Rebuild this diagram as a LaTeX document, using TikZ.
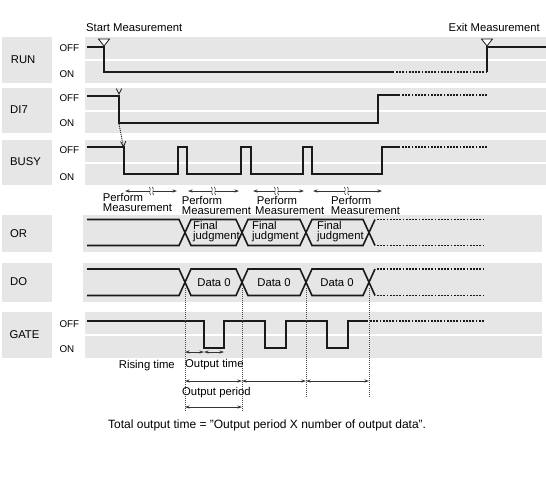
\documentclass[tikz,border=0pt]{standalone}
\usepackage{fontspec}
\setmainfont{Liberation Sans}
\usetikzlibrary{arrows.meta}
\definecolor{band}{HTML}{E6E6E6}
\definecolor{sig}{HTML}{1A1A1A}
\begin{document}
\begin{tikzpicture}[x=1pt,y=-1pt,
  sigline/.style={draw=sig,line width=1.6pt,line join=miter},
  dotsig/.style={draw=sig,line width=1.6pt,dash pattern=on 1.8pt off 1.4pt},
  vdot/.style={draw=black!70,line width=0.9pt,dash pattern=on 1pt off 1pt},
  tip/.tip={Stealth[length=4.5pt,width=3pt]},
  dimarrow/.style={draw=black!80,line width=0.7pt,tip-tip},
  lbl/.style={inner sep=0pt,font=\fontsize{11.3}{12}\selectfont},
  lvl/.style={inner sep=0pt,font=\fontsize{9.8}{11}\selectfont},
  sep/.style={draw=white,line width=1.6pt},
  marker/.style={draw=sig,fill=white,line width=0.8pt,line join=miter},
]
\useasboundingbox (0,0) rectangle (546,480);
\fill[white] (0,0) rectangle (546,480);

% ---- bands
\fill[band] (2,37) rectangle (52,83);
\fill[band] (85,37) rectangle (546,83);
\draw[sep] (85,60) -- (546,60);
\fill[band] (2,88) rectangle (52,133);
\fill[band] (85,88) rectangle (546,133);
\draw[sep] (85,111) -- (546,111);
\fill[band] (2,140) rectangle (52,185);
\fill[band] (85,140) rectangle (546,185);
\draw[sep] (85,163) -- (546,163);
\fill[band] (2,215) rectangle (52,252);
\fill[band] (83,215) rectangle (542,252);
\fill[band] (2,263) rectangle (52,302);
\fill[band] (83,263) rectangle (542,302);
\fill[band] (2,312) rectangle (52,358);
\fill[band] (85,312) rectangle (542,358);
\draw[sep] (85,335) -- (542,335);

% ---- row labels
\node[lbl,anchor=base west] (lrun) at (10.7,63) {RUN};
\node[lbl,anchor=base west] (ldi) at (10,113) {DI7};
\node[lbl,anchor=base west] (lbusy) at (10,165) {BUSY};
\node[lbl,anchor=base west] (lor) at (10,237) {OR};
\node[lbl,anchor=base west] (ldo) at (10,285) {DO};
\node[lbl,anchor=base west] (lgate) at (9.3,338) {GATE};

\node[lvl,anchor=base west] (runoff) at (59.3,51.8) {OFF};
\node[lvl,anchor=base west] (runon) at (59.3,77.8) {ON};
\node[lvl,anchor=base west] (dioff) at (59.3,101.8) {OFF};
\node[lvl,anchor=base west] (dion) at (59.3,126.8) {ON};
\node[lvl,anchor=base west] (busyoff) at (59.3,153.8) {OFF};
\node[lvl,anchor=base west] (busyon) at (59.3,180.8) {ON};
\node[lvl,anchor=base west] (gateoff) at (59.3,327.8) {OFF};
\node[lvl,anchor=base west] (gateon) at (59.3,352.8) {ON};

% ---- start / exit
\node[lbl,anchor=base west] (start) at (86,31) {Start Measurement};
\node[lbl,anchor=base east] (exit) at (540,31) {Exit Measurement};

% ---- RUN
\draw[sigline] (87,47) -- (104,47) -- (104,72) -- (394,72);
\draw[dotsig] (396,72) -- (487,72);
\draw[sigline] (487,72) -- (487,47) -- (546,47);
\draw[marker] (98.5,39) -- (109.5,39) -- (104,46) -- cycle;
\draw[marker] (481.5,39) -- (492.5,39) -- (487,46) -- cycle;

% ---- DI7
\draw[sigline] (87,96) -- (119,96) -- (119,123) -- (378,123) -- (378,95) -- (400,95);
\draw[dotsig] (402,95) -- (488,95);
\draw[draw=sig,line width=0.8pt] (116.3,88.5) -- (119,94) -- (121.7,88.5);
\coordinate (difall) at (119,124);
\coordinate (busyfall) at (123.5,147);
\draw[draw=sig,line width=0.9pt,dash pattern=on 1pt off 1pt] (difall) -- (busyfall);
\draw[draw=sig,line width=0.8pt] (120.6,141.5) -- (123.5,147) -- (125.8,141);

% ---- BUSY
\draw[sigline] (87,147) -- (124,147) -- (124,174) -- (178,174) -- (178,147) -- (187,147)
  -- (187,174) -- (241,174) -- (241,147) -- (251,147) -- (251,174) -- (303,174)
  -- (303,147) -- (312,147) -- (312,174) -- (382,174) -- (382,147) -- (400,147);
\draw[dotsig] (402,147) -- (488,147);

% ---- Perform measurement arrows
\foreach \a/\m/\b in {125/150/177, 188/212/239, 253/275/304, 313/345/382}{
  \draw[draw=black!80,line width=0.7pt,tip-] (\a,191) -- (\m,191);
  \draw[draw=black!80,line width=0.7pt,-tip] (\m+3,191) -- (\b,191);
  \draw[draw=black!80,line width=0.55pt] (\m-0.8,187) .. controls (\m+2,188.5) and (\m-2,193.5) .. (\m+0.8,195);
  \draw[draw=black!80,line width=0.55pt] (\m+2.2,187) .. controls (\m+5,188.5) and (\m+1,193.5) .. (\m+3.8,195);
}
\node[lbl,anchor=base west] (p1a) at (102.7,201.3) {Perform};
\node[lbl,anchor=base west] (p1b) at (102.7,211.3) {Measurement};
\node[lbl,anchor=base west] (p2a) at (181.7,204) {Perform};
\node[lbl,anchor=base west] (p2b) at (181.7,214) {Measurement};
\node[lbl,anchor=base west] (p3a) at (256.7,204) {Perform};
\node[lbl,anchor=base west] (p3b) at (255,214) {Measurement};
\node[lbl,anchor=base west] (p4a) at (331,204) {Perform};
\node[lbl,anchor=base west] (p4b) at (330.7,214) {Measurement};

% ---- OR
\def\ta{219.5}\def\tb{245.5}
\draw[sigline] (87,\ta) -- (179,\ta) -- (191,\tb) -- (236,\tb) -- (248,\ta) -- (300,\ta) -- (312,\tb) -- (363,\tb) -- (375,\ta);
\draw[sigline] (87,\tb) -- (179,\tb) -- (191,\ta) -- (236,\ta) -- (248,\tb) -- (300,\tb) -- (312,\ta) -- (363,\ta) -- (375,\tb);
\draw[dotsig] (377,\ta) -- (485,\ta);
\draw[dotsig] (377,\tb) -- (485,\tb);
\node[lbl,anchor=base west] (f1a) at (193,229) {Final};
\node[lbl,anchor=base west] (f1b) at (193,239.5) {judgment};
\node[lbl,anchor=base west] (f2a) at (252,229) {Final};
\node[lbl,anchor=base west] (f2b) at (252,239.5) {judgment};
\node[lbl,anchor=base west] (f3a) at (317,229) {Final};
\node[lbl,anchor=base west] (f3b) at (317,239.5) {judgment};

% ---- DO
\def\da{269}\def\db{295.5}
\draw[sigline] (87,\da) -- (179,\da) -- (191,\db) -- (236,\db) -- (248,\da) -- (300,\da) -- (312,\db) -- (363,\db) -- (375,\da);
\draw[sigline] (87,\db) -- (179,\db) -- (191,\da) -- (236,\da) -- (248,\db) -- (300,\db) -- (312,\da) -- (363,\da) -- (375,\db);
\draw[dotsig] (377,\da) -- (485,\da);
\draw[dotsig] (377,\db) -- (485,\db);
\node[lbl,anchor=base] (d1) at (214,286.7) {Data 0};
\node[lbl,anchor=base] (d2) at (274,286.7) {Data 0};
\node[lbl,anchor=base] (d3) at (337,286.7) {Data 0};

% ---- GATE
\draw[sigline] (87,320.7) -- (204,320.7) -- (204,347.7) -- (224,347.7) -- (224,320.7) -- (265,320.7)
  -- (265,347.7) -- (286,347.7) -- (286,320.7) -- (327,320.7) -- (327,347.7) -- (348,347.7)
  -- (348,320.7) -- (368,320.7);
\draw[dotsig] (370,320.7) -- (485,320.7);

% ---- dotted verticals
\draw[vdot] (185,288) -- (185,412);
\draw[vdot] (242,288) -- (242,412);
\draw[vdot] (306,288) -- (306,398);
\draw[vdot] (369,288) -- (369,398);

% ---- dimension arrows
\coordinate (r0) at (185,352); \coordinate (r1) at (204,352); \coordinate (r2) at (224,352);
\draw[dimarrow] (r0) -- (r1);
\draw[dimarrow] (r1) -- (r2);
\coordinate (o0) at (185,381); \coordinate (o1) at (242,381);
\coordinate (o2) at (306,381); \coordinate (o3) at (369,381);
\draw[dimarrow] (o0) -- (o1);
\draw[dimarrow] (o1) -- (o2);
\draw[dimarrow] (o2) -- (o3);
\coordinate (t0) at (185,407); \coordinate (t1) at (242,407);
\draw[dimarrow] (t0) -- (t1);

\node[lbl,anchor=base east] (rise) at (175,368) {Rising time};
\node[lbl,anchor=base west] (otime) at (185,367) {Output time};
\node[lbl,anchor=base west] (operiod) at (182,395) {Output period};
\node[inner sep=0pt,font=\fontsize{12}{13}\selectfont,anchor=base west] (total) at (108,428)
  {Total output time = "Output period X number of output data".};
\end{tikzpicture}
\end{document}
